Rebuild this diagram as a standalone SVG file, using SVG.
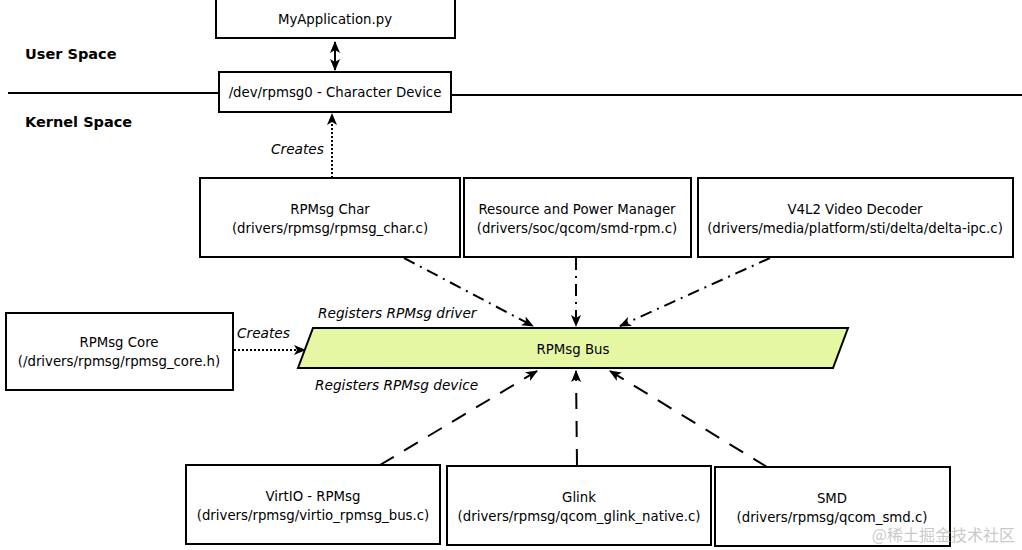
<svg xmlns="http://www.w3.org/2000/svg" width="1022" height="550" viewBox="0 0 1022 550">
<style>
.box{fill:#fff;stroke:#000;stroke-width:2}
.t{font-family:"DejaVu Sans",Verdana,sans-serif;font-size:13.3px;fill:#000;text-anchor:middle}
.i{font-family:"DejaVu Sans",Verdana,sans-serif;font-size:13.7px;font-style:italic;fill:#000}
.h{font-family:"DejaVu Sans",Verdana,sans-serif;font-size:14.5px;font-weight:bold;fill:#000}
.c{fill:none;stroke:#000;stroke-width:2}
.dot{stroke-dasharray:2 2}
.dd{stroke-dasharray:12 6 2 6}
.da{stroke-dasharray:16 12}
</style>
<defs>
<marker id="ah" viewBox="0 0 12 10" refX="11" refY="5" markerWidth="12" markerHeight="10" markerUnits="userSpaceOnUse" orient="auto-start-reverse">
<path d="M0,0 L12,5 L0,10 L3,5 Z" fill="#000"/>
</marker>
</defs>
<g id="divider">
<line x1="8" y1="93" x2="219" y2="93" stroke="#000" stroke-width="2"/>
<line x1="451" y1="95" x2="1022" y2="95" stroke="#000" stroke-width="2"/>
<text class="h" x="25" y="59">User Space</text>
<text class="h" x="25" y="127">Kernel Space</text>
</g>
<g id="connectors">
<line class="c" x1="335" y1="42" x2="335" y2="70" marker-start="url(#ah)" marker-end="url(#ah)"/>
<line class="c dot" x1="332" y1="178" x2="332" y2="114" marker-end="url(#ah)"/>
<text class="i" x="271" y="154">Creates</text>
<line class="c dot" x1="234" y1="350" x2="305" y2="350" marker-end="url(#ah)"/>
<text class="i" x="237" y="338">Creates</text>
<line class="c dd" x1="404" y1="258" x2="533" y2="326" marker-end="url(#ah)"/>
<line class="c dd" x1="576" y1="258" x2="576" y2="326" marker-end="url(#ah)"/>
<line class="c dd" x1="770" y1="258" x2="620" y2="326" marker-end="url(#ah)"/>
<line class="c da" x1="380" y1="465" x2="537" y2="371" marker-end="url(#ah)"/>
<line class="c da" x1="577" y1="465" x2="576" y2="371" marker-end="url(#ah)"/>
<line class="c da" x1="767" y1="467" x2="610" y2="371" marker-end="url(#ah)"/>
<text class="i" x="318" y="318">Registers RPMsg driver</text>
<text class="i" x="315" y="390">Registers RPMsg device</text>
</g>
<g id="app">
<rect class="box" x="216" y="-10" width="239" height="48"/>
<text class="t" x="335" y="24">MyApplication.py</text>
</g>
<g id="chardev">
<rect class="box" x="219" y="72" width="232" height="40"/>
<text class="t" x="335" y="97">/dev/rpmsg0 - Character Device</text>
</g>
<g id="rpmsgchar">
<rect class="box" x="200" y="178" width="260" height="79"/>
<text class="t" x="330" y="214">RPMsg Char</text>
<text class="t" x="330" y="233">(drivers/rpmsg/rpmsg_char.c)</text>
</g>
<g id="rpm">
<rect class="box" x="464" y="178" width="227" height="79"/>
<text class="t" x="577" y="214">Resource and Power Manager</text>
<text class="t" x="577" y="233">(drivers/soc/qcom/smd-rpm.c)</text>
</g>
<g id="v4l2">
<rect class="box" x="698" y="178" width="315" height="79"/>
<text class="t" x="855" y="214">V4L2 Video Decoder</text>
<text class="t" x="855" y="233">(drivers/media/platform/sti/delta/delta-ipc.c)</text>
</g>
<g id="core">
<rect class="box" x="6" y="313" width="227" height="77"/>
<text class="t" x="119" y="347">RPMsg Core</text>
<text class="t" x="119" y="366">(/drivers/rpmsg/rpmsg_core.h)</text>
</g>
<g id="bus">
<polygon points="313,328 848,328 833,368 298,368" fill="#e6f7a3" stroke="#000" stroke-width="2"/>
<text class="t" x="573" y="354">RPMsg Bus</text>
</g>
<g id="virtio">
<rect class="box" x="186" y="465" width="254" height="79"/>
<text class="t" x="313" y="501">VirtIO - RPMsg</text>
<text class="t" x="313" y="520">(drivers/rpmsg/virtio_rpmsg_bus.c)</text>
</g>
<g id="glink">
<rect class="box" x="447" y="466" width="264" height="79"/>
<text class="t" x="579" y="502">Glink</text>
<text class="t" x="579" y="521">(drivers/rpmsg/qcom_glink_native.c)</text>
</g>
<g id="smd">
<rect class="box" x="715" y="467" width="235" height="79"/>
<text class="t" x="832" y="503">SMD</text>
<text class="t" x="832" y="522">(drivers/rpmsg/qcom_smd.c)</text>
</g>
<text x="1015" y="541" text-anchor="end" font-family="'Noto Sans CJK SC',sans-serif" font-size="16" fill="#bbb" fill-opacity="0.8">@稀土掘金技术社区</text>
</svg>
